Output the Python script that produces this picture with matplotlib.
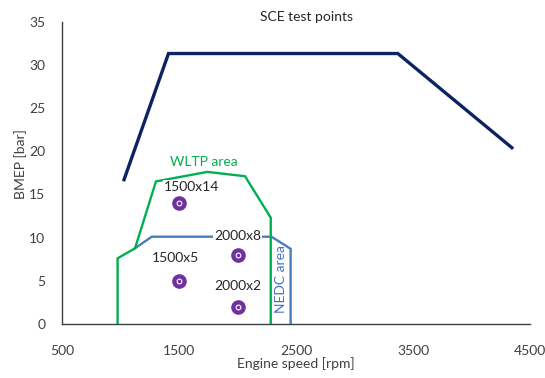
import numpy as np
import matplotlib
matplotlib.use("Agg")
import matplotlib.pyplot as plt

plt.rcParams['font.family'] = ['Lato', 'DejaVu Sans']

# courbe de pleine charge (regime, PME)
rpm_full = [1030, 1410, 3370, 4345]
bmep_full = [16.7, 31.3, 31.3, 20.4]

# zone WLTP
rpm_wltp = [975, 975, 1124, 1303, 1742, 2064, 2284, 2284]
bmep_wltp = [0, 7.6, 8.76, 16.5, 17.6, 17.1, 12.3, 0]

# zone NEDC
rpm_nedc = [1124, 1267, 2290, 2454, 2454]
bmep_nedc = [8.76, 10.1, 10.1, 8.7, 0]

# points d'essai
pts_rpm = [1500, 2000, 1500, 2000]
pts_bmep = [14, 8, 5, 2]
pts_labels = ['1500x14', '2000x8', '1500x5', '2000x2']
# position des etiquettes (regime, PME)
lab_pos = [(1603, 15.9), (2000, 10.2), (1474, 7.6), (2000, 4.4)]

c_full = '#0B2461'
c_wltp = '#00B050'
c_nedc = '#4A7EBB'
c_pts = '#7030A0'

fig = plt.figure(figsize=(5.45, 3.78), dpi=100)
ax = fig.add_axes([0.1138, 0.1429, 0.8587, 0.8001])

ax.plot(rpm_full, bmep_full, color=c_full, lw=2.4, solid_joinstyle='miter', zorder=3)
ax.plot(rpm_wltp, bmep_wltp, color=c_wltp, lw=1.7, solid_joinstyle='miter', zorder=2)
ax.plot(rpm_nedc, bmep_nedc, color=c_nedc, lw=1.7, solid_joinstyle='miter', zorder=1)

ax.plot(pts_rpm, pts_bmep, 'o', color=c_pts, ms=9.5, mec=c_pts, zorder=5)
ax.plot(pts_rpm, pts_bmep, 'o', color=c_pts, ms=3.4, mec='white', mew=0.8, zorder=6)

for (x, y), lab in zip(lab_pos, pts_labels):
    ax.text(x, y, lab, ha='center', va='center', fontsize=10, color='#262626',
            bbox=dict(fc='white', ec='none', pad=0.5), zorder=4)

ax.text(1714, 18.7, 'WLTP area', ha='center', va='center', fontsize=10, color=c_wltp)
ax.text(2368, 5.2, 'NEDC area', ha='center', va='center', fontsize=10,
        color='#4472C4', rotation=90, zorder=4)

fig.text(306 / 545, 1 - 17 / 378, 'SCE test points', ha='center', va='center',
         fontsize=10, color='#262626')

ax.set_xlim(500, 4500)
ax.set_ylim(0, 35)
ax.set_xticks([500, 1500, 2500, 3500, 4500])
ax.set_yticks(np.arange(0, 36, 5))
ax.tick_params(length=0, labelsize=10, colors='#404040', pad=12)
ax.tick_params(axis='x', pad=15)
for s in ['top', 'right']:
    ax.spines[s].set_visible(False)
for s in ['left', 'bottom']:
    ax.spines[s].set_color('#404040')
    ax.spines[s].set_linewidth(1.0)

ax.set_xlabel('Engine speed [rpm]', fontsize=10, color='#404040')
ax.set_ylabel('BMEP [bar]', fontsize=10, color='#404040')
ax.xaxis.set_label_coords(0.5, -0.11)
ax.yaxis.set_label_coords(-0.075, 0.53)

fig.savefig('out.png', dpi=100)
